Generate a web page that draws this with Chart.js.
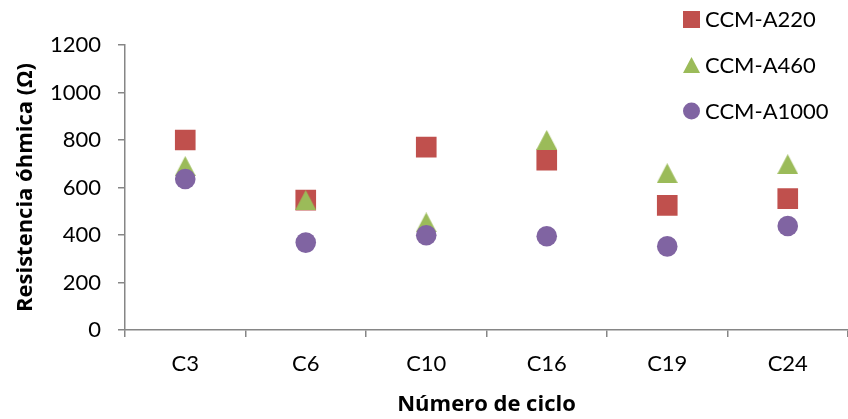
<!DOCTYPE html>
<html>
<head>
<meta charset="utf-8">
<script src="https://cdn.jsdelivr.net/npm/chart.js@4.4.1/dist/chart.umd.min.js"></script>
<style>
  html, body { margin: 0; padding: 0; background: #fff; }
  #wrap { position: relative; width: 848px; height: 419px; }
</style>
</head>
<body>
<div id="wrap"><canvas id="myChart"></canvas></div>
<script>
// data
const ciclos = ["C3", "C6", "C10", "C16", "C19", "C24"];
const serieLabels = ["CCM-A220", "CCM-A460", "CCM-A1000"];
const a220 = [800, 547, 770, 715, 525, 553];
const a460 = [690, 547, 453, 800, 660, 698];
const a1000 = [636, 368, 399, 395, 352, 438];
const yTicks = [0, 200, 400, 600, 800, 1000, 1200];

const red = "#C0504D";
const green = "#9BBB59";
const purple = "#8064A2";
const axisGray = "#868686";
const fontFam = "Lato, 'Open Sans', sans-serif";
const titleFam = "'Open Sans', Lato, sans-serif";

// triangle marker centred on its bounding box (like Excel)
function triangleImg(color, w, h) {
  let c = document.createElement("canvas");
  c.width = w;
  c.height = h;
  let ctx = c.getContext("2d");
  ctx.fillStyle = color;
  ctx.beginPath();
  ctx.moveTo(w / 2, 0);
  ctx.lineTo(w, h);
  ctx.lineTo(0, h);
  ctx.closePath();
  ctx.fill();
  return c;
}
let tri = triangleImg(green, 21, 20);
let triSmall = triangleImg(green, 17, 16);

// legend drawn over the plot, top right
const legendPlugin = {
  id: "cornerLegend",
  afterDraw(chart) {
    let ctx = chart.ctx;
    let rows = [19, 65, 111];
    ctx.save();
    ctx.font = "22px " + fontFam;
    ctx.textBaseline = "middle";
    // markers
    ctx.fillStyle = red;
    ctx.fillRect(683, rows[0] - 8, 17, 17);
    ctx.drawImage(triSmall, 683, rows[1] - 8);
    ctx.fillStyle = purple;
    ctx.beginPath();
    ctx.arc(691.5, rows[2], 8.5, 0, Math.PI * 2);
    ctx.fill();
    ctx.fillStyle = "#000";
    serieLabels.forEach((t, i) => ctx.fillText(t, 705, rows[i] + 1));
    ctx.restore();
  },
};

const data = {
  labels: ciclos,
  datasets: [
    {
      label: serieLabels[0],
      data: a220,
      showLine: false,
      pointStyle: "rect",
      pointRadius: 14.6,
      pointHoverRadius: 14.6,
      backgroundColor: red,
      borderColor: red,
      borderWidth: 0,
      order: 3,
    },
    {
      label: serieLabels[1],
      data: a460,
      showLine: false,
      pointStyle: tri,
      pointRadius: 10,
      backgroundColor: green,
      borderColor: green,
      borderWidth: 0,
      order: 2,
    },
    {
      label: serieLabels[2],
      data: a1000,
      showLine: false,
      pointStyle: "circle",
      pointRadius: 10.3,
      pointHoverRadius: 10.3,
      backgroundColor: purple,
      borderColor: purple,
      borderWidth: 0,
      order: 1,
    },
  ],
};

const config = {
  type: "line",
  data: data,
  plugins: [legendPlugin],
  options: {
    responsive: true,
    maintainAspectRatio: false,
    animation: false,
    layout: { autoPadding: false, padding: { top: 45, right: 0, left: 0, bottom: 0 } },
    plugins: {
      legend: { display: false },
      tooltip: { enabled: false },
    },
    scales: {
      x: {
        type: "category",
        offset: true,
        afterFit: (s) => { s.height = 89; },
        grid: {
          offset: true,
          drawOnChartArea: false,
          drawTicks: true,
          tickLength: 7,
          color: axisGray,
          lineWidth: 1.5,
        },
        border: { color: axisGray, width: 1.5 },
        ticks: {
          color: "#000",
          font: { family: fontFam, size: 22 },
          padding: 14,
          maxRotation: 0,
        },
        title: {
          display: true,
          text: "Número de ciclo",
          color: "#000",
          font: { family: titleFam, size: 22, weight: "bold" },
          padding: { top: 0, bottom: 1 },
        },
      },
      y: {
        min: 0,
        max: 1200,
        afterFit: (s) => { s.width = 125; },
        afterBuildTicks: (s) => { s.ticks = yTicks.map((v) => ({ value: v })); },
        grid: {
          drawOnChartArea: false,
          drawTicks: true,
          tickLength: 7,
          color: axisGray,
          lineWidth: 1.5,
        },
        border: { color: axisGray, width: 1.5 },
        ticks: {
          color: "#000",
          font: { family: fontFam, size: 22 },
          padding: 17,
          callback: (v) => String(v),
        },
        title: {
          display: true,
          text: "Resistencia óhmica (Ω)",
          color: "#000",
          font: { family: titleFam, size: 22, weight: "bold" },
          padding: { top: 13, bottom: 0 },
        },
      },
    },
  },
};

let myChart = new Chart(document.querySelector("#myChart"), config);
</script>
</body>
</html>
